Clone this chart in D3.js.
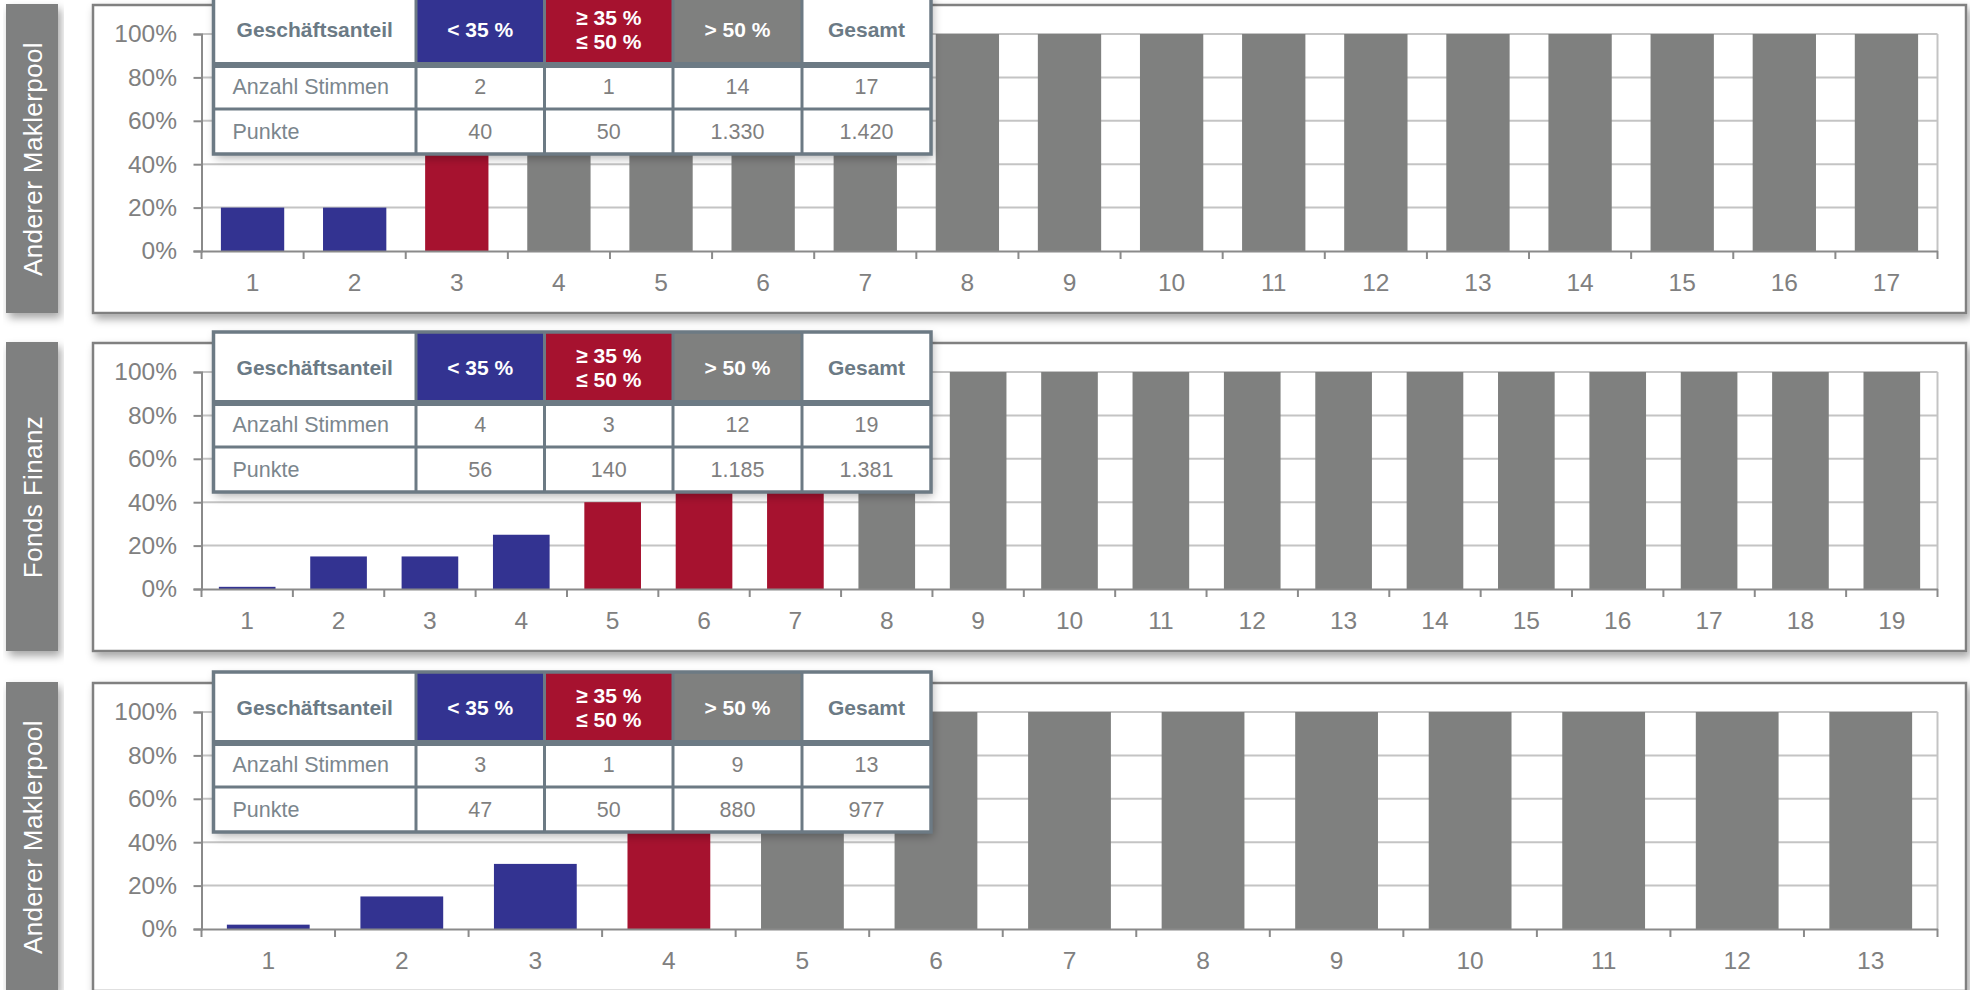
<!DOCTYPE html>
<html><head><meta charset="utf-8">
<script src="https://cdn.jsdelivr.net/npm/d3@7"></script>
<style>
body{margin:0;background:#fff;}
svg{display:block;font-family:"Liberation Sans",Arial,Helvetica,sans-serif;}
</style>
</head><body>
<svg id="chart" width="1970" height="990"></svg>
<script>
// ---------- data ----------
const panelNames = ["Anderer Maklerpool", "Fonds Finanz", "Anderer Maklerpool"];
const shares1 = [20, 20, 50, 60, 80, 90, 100, 100, 100, 100, 100, 100, 100, 100, 100, 100, 100];
const shares2 = [1, 15, 15, 25, 40, 50, 50, 85, 100, 100, 100, 100, 100, 100, 100, 100, 100, 100, 100];
const shares3 = [2, 15, 30, 50, 80, 100, 100, 100, 100, 100, 100, 100, 100];
const yTickValues = [0, 20, 40, 60, 80, 100];
const tableHeader = ["Geschäftsanteil", "< 35 %", "≥ 35 %|≤ 50 %", "> 50 %", "Gesamt"];
const rowLabels = ["Anzahl Stimmen", "Punkte"];
const votes1 = ["2", "1", "14", "17"];
const points1 = ["40", "50", "1.330", "1.420"];
const votes2 = ["4", "3", "12", "19"];
const points2 = ["56", "140", "1.185", "1.381"];
const votes3 = ["3", "1", "9", "13"];
const points3 = ["47", "50", "880", "977"];

const panels = [
  {name: panelNames[0], shares: shares1, votes: votes1, points: points1},
  {name: panelNames[1], shares: shares2, votes: votes2, points: points2},
  {name: panelNames[2], shares: shares3, votes: votes3, points: points3}
];

// ---------- style / layout ----------
const panelTops = [4, 342, 682];
const colLow = "#333391", colMid = "#a6122f", colHigh = "#7f807f";
const headerFills = ["#ffffff", colLow, colMid, colHigh, "#ffffff"];
const slate = "#6c7a84";
function barColor(v){ return v < 35 ? colLow : (v <= 50 ? colMid : colHigh); }

const boxX = 93, boxW = 1873, boxH = 308;
const plotL = 201.5, plotR = 1937.5, plotTopOff = 30, plotH = 217;
const tblX = 213.5, tblTopOff = -10;
const colEdges = [0, 202.5, 331, 459.5, 588.5, 717.5];
const rowEdges = [0, 70, 115, 160];

const svg = d3.select("#chart");
const defs = svg.append("defs");
const f = defs.append("filter").attr("id", "shadow").attr("x", "-5%").attr("y", "-10%").attr("width", "115%").attr("height", "130%");
f.append("feDropShadow").attr("dx", 3).attr("dy", 5).attr("stdDeviation", 4)
  .attr("flood-color", "#000").attr("flood-opacity", 0.35);
const f2 = defs.append("filter").attr("id", "shadowT").attr("x", "-5%").attr("y", "-10%").attr("width", "115%").attr("height", "130%");
f2.append("feDropShadow").attr("dx", 2).attr("dy", 4).attr("stdDeviation", 5)
  .attr("flood-color", "#000").attr("flood-opacity", 0.3);

panels.forEach((p, pi) => {
  const top = panelTops[pi];
  const g = svg.append("g").attr("transform", `translate(0,${top})`);

  // side label box
  g.append("rect").attr("x", 6).attr("y", 0).attr("width", 52).attr("height", boxH + 1)
    .attr("fill", "#7f8080").attr("filter", "url(#shadow)");
  g.append("text").attr("transform", `translate(33,${boxH / 2 + 1}) rotate(-90)`)
    .attr("text-anchor", "middle").attr("dominant-baseline", "central")
    .attr("fill", "#fff").attr("font-size", 26).attr("letter-spacing", 0.4).text(p.name);

  // chart box
  g.append("rect").attr("x", boxX).attr("y", 1).attr("width", boxW).attr("height", boxH)
    .attr("fill", "#fff").attr("stroke", "#808080").attr("stroke-width", 2.5).attr("filter", "url(#shadow)");

  const cats = p.shares.map((d, i) => String(i + 1));
  const x = d3.scaleBand().domain(cats).range([plotL, plotR]).paddingInner(0.38).paddingOuter(0.19);
  const y = d3.scaleLinear().domain([0, 100]).range([plotTopOff + plotH, plotTopOff]);

  // gridlines
  g.append("g").selectAll("line").data(yTickValues.filter(v => v > 0)).join("line")
    .attr("x1", plotL).attr("x2", plotR).attr("y1", d => y(d)).attr("y2", d => y(d))
    .attr("stroke", "#c4c4c4").attr("stroke-width", 2);
  g.append("line").attr("x1", plotR).attr("x2", plotR).attr("y1", y(100)).attr("y2", y(0))
    .attr("stroke", "#c4c4c4").attr("stroke-width", 2);

  // bars
  g.append("g").selectAll("rect").data(p.shares).join("rect")
    .attr("x", (d, i) => x(cats[i])).attr("width", x.bandwidth())
    .attr("y", d => y(d)).attr("height", d => y(0) - y(d))
    .attr("fill", d => barColor(d));

  // y axis
  const ya = g.append("g").attr("transform", `translate(${plotL},0)`)
    .call(d3.axisLeft(y).tickValues(yTickValues).tickFormat(d => d + "%").tickSize(8).tickPadding(16.5));
  ya.select(".domain").attr("stroke", "#8a8a8a").attr("stroke-width", 2);
  ya.selectAll(".tick line").attr("stroke", "#8a8a8a").attr("stroke-width", 2);
  ya.selectAll("text").attr("font-size", 24.5).attr("fill", "#808080").attr("font-family", null);

  // x axis
  const xa = g.append("g").attr("transform", `translate(0,${y(0)})`)
    .call(d3.axisBottom(x).tickSize(0).tickSizeOuter(0).tickPadding(22.5));
  xa.select(".domain").attr("stroke", "#8a8a8a").attr("stroke-width", 2);
  xa.selectAll("text").attr("font-size", 24.5).attr("fill", "#808080").attr("font-family", null);
  const bounds = d3.range(cats.length + 1).map(i => plotL + i * x.step());
  xa.selectAll("line.bt").data(bounds).join("line").attr("class", "bt")
    .attr("x1", d => d).attr("x2", d => d).attr("y1", 0).attr("y2", 8)
    .attr("stroke", "#8a8a8a").attr("stroke-width", 2);

  // table
  const t = g.append("g").attr("transform", `translate(${tblX},${tblTopOff})`);
  const tw = colEdges[colEdges.length - 1], th = rowEdges[rowEdges.length - 1];
  t.append("rect").attr("width", tw).attr("height", th).attr("fill", "#fff").attr("filter", "url(#shadowT)");
  tableHeader.forEach((h, ci) => {
    t.append("rect").attr("x", colEdges[ci]).attr("y", 0)
      .attr("width", colEdges[ci + 1] - colEdges[ci]).attr("height", rowEdges[1])
      .attr("fill", headerFills[ci]);
    const cx = (colEdges[ci] + colEdges[ci + 1]) / 2;
    const lines = h.split("|");
    const txt = t.append("text").attr("text-anchor", "middle").attr("font-weight", "bold")
      .attr("font-size", 21).attr("fill", (ci === 0 || ci === 4) ? "#6b7a85" : "#fff");
    lines.forEach((ln, li) => {
      const cy = rowEdges[1] / 2 + (li - (lines.length - 1) / 2) * 24 + 1;
      txt.append("tspan").attr("x", cx).attr("y", cy).attr("dy", "0.35em").text(ln);
    });
  });
  const rows = [p.votes, p.points];
  rows.forEach((r, ri) => {
    const cy = (rowEdges[ri + 1] + rowEdges[ri + 2]) / 2;
    t.append("text").attr("x", colEdges[0] + 19).attr("y", cy).attr("dy", "0.35em")
      .attr("font-size", 21.5).attr("fill", "#7b868d").text(rowLabels[ri]);
    r.forEach((v, vi) => {
      t.append("text").attr("x", (colEdges[vi + 1] + colEdges[vi + 2]) / 2).attr("y", cy).attr("dy", "0.35em")
        .attr("text-anchor", "middle").attr("font-size", 21.5).attr("fill", "#7f7f7f").text(v);
    });
  });
  // grid lines of table
  colEdges.slice(1, -1).forEach(cx => {
    t.append("line").attr("x1", cx).attr("x2", cx).attr("y1", 0).attr("y2", th)
      .attr("stroke", slate).attr("stroke-width", 3);
  });
  t.append("line").attr("x1", 0).attr("x2", tw).attr("y1", rowEdges[1] + 1).attr("y2", rowEdges[1] + 1)
    .attr("stroke", slate).attr("stroke-width", 6);
  t.append("line").attr("x1", 0).attr("x2", tw).attr("y1", rowEdges[2]).attr("y2", rowEdges[2])
    .attr("stroke", slate).attr("stroke-width", 3);
  t.append("rect").attr("width", tw).attr("height", th).attr("fill", "none")
    .attr("stroke", slate).attr("stroke-width", 3.5);
});
</script>
</body></html>
